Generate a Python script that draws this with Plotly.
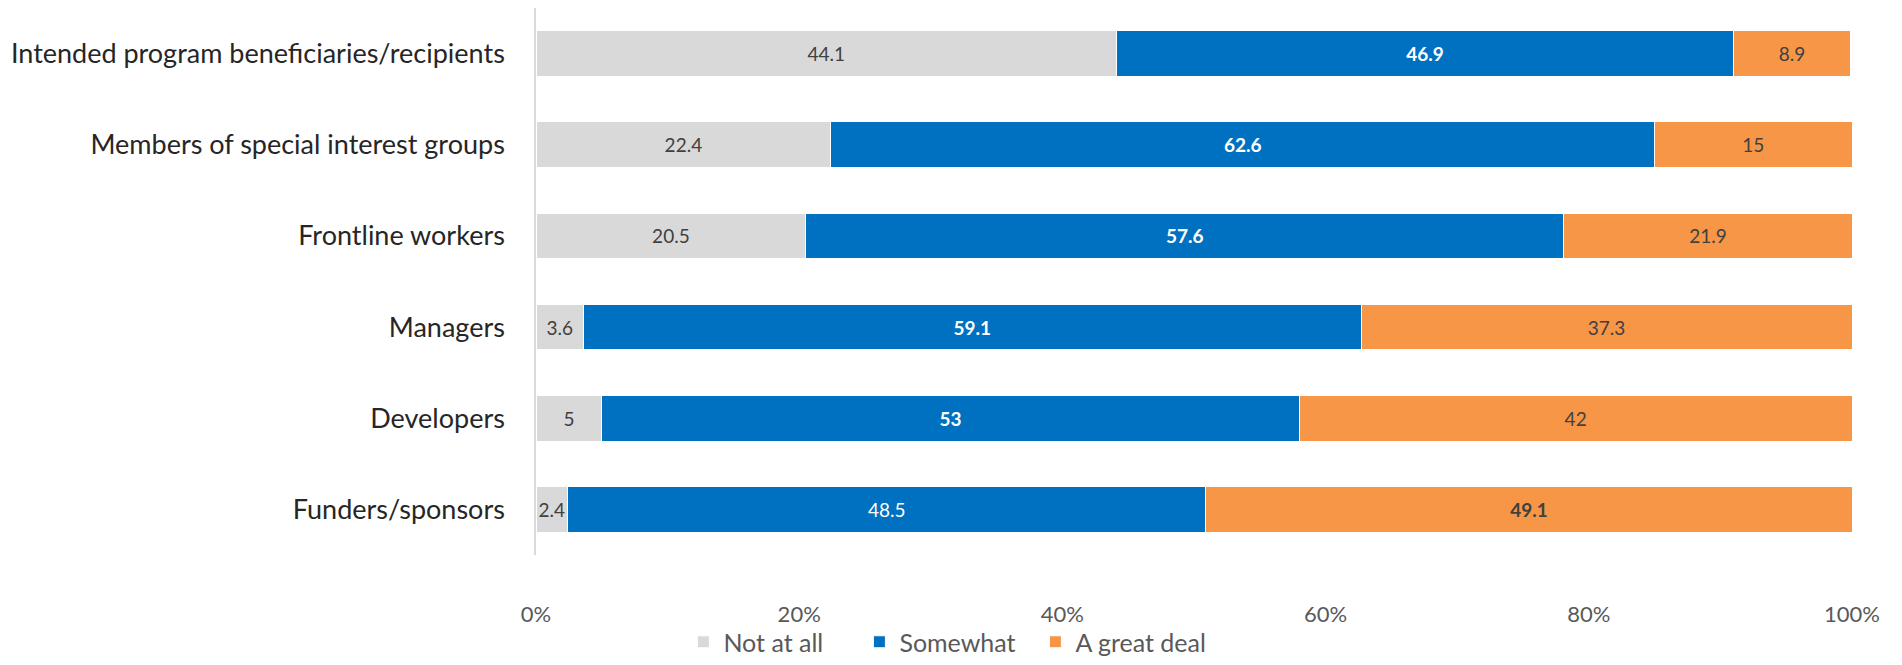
import plotly.graph_objects as go

categories = [
    "Intended program beneficiaries/recipients",
    "Members of special interest groups",
    "Frontline workers",
    "Managers",
    "Developers",
    "Funders/sponsors",
]
not_at_all = [44.1, 22.4, 20.5, 3.6, 5, 2.4]
somewhat = [46.9, 62.6, 57.6, 59.1, 53, 48.5]
great_deal = [8.9, 15, 21.9, 37.3, 42, 49.1]
series_names = ["Not at all", "Somewhat", "A great deal"]
tick_vals = [0, 20, 40, 60, 80, 100]
tick_text = ["0%", "20%", "40%", "60%", "80%", "100%"]

colors = ["#d9d9d9", "#0070c0", "#f79646"]
text_colors = ["#404040", "#ffffff", "#404040"]
FONT = "Lato, 'Open Sans', sans-serif"

all_series = [not_at_all, somewhat, great_deal]
fig = go.Figure()
for i, (name, vals) in enumerate(zip(series_names, all_series)):
    labels = []
    for j, v in enumerate(vals):
        row = [s[j] for s in all_series]
        s = f"{v:g}"
        if v == max(row):
            s = f"<b>{s}</b>"
        labels.append(s)
    fig.add_trace(go.Bar(
        y=categories, x=vals, name=name, orientation="h",
        marker=dict(color=colors[i], line=dict(color="#ffffff", width=1)),
        text=labels, texttemplate="%{text}", textposition="inside",
        insidetextanchor="middle", textangle=0, constraintext="none",
        textfont=dict(family=FONT, size=19, color=text_colors[i]),
        hoverinfo="skip",
    ))

fig.update_layout(
    barmode="stack",
    bargap=0.5,
    width=1894, height=657,
    margin=dict(l=528, r=50, t=0, b=105),
    plot_bgcolor="white", paper_bgcolor="white",
    font=dict(family=FONT, color="#595959"),
    uniformtext=dict(minsize=19, mode="show"),
    legend=dict(orientation="h", x=0.112, xanchor="left", y=-0.160, yanchor="middle",
                font=dict(size=25, color="#595959", family=FONT),
                bgcolor="rgba(0,0,0,0)",
                entrywidth=131, entrywidthmode="pixels",
                traceorder="normal"),
    showlegend=True,
)
fig.update_xaxes(range=[0, 100], tickvals=tick_vals, ticktext=tick_text,
                 showgrid=False, zeroline=False, showline=False,
                 tickfont=dict(size=22, color="#595959", family=FONT), ticks="",
                 ticklabelstandoff=44)
fig.update_yaxes(autorange="reversed", showgrid=False, zeroline=False,
                 showline=True, linecolor="#d9d9d9", linewidth=1.5,
                 tickfont=dict(size=27, color="#262626", family=FONT), ticks="",
                 ticklabelstandoff=24)

fig.write_html("out.html")
